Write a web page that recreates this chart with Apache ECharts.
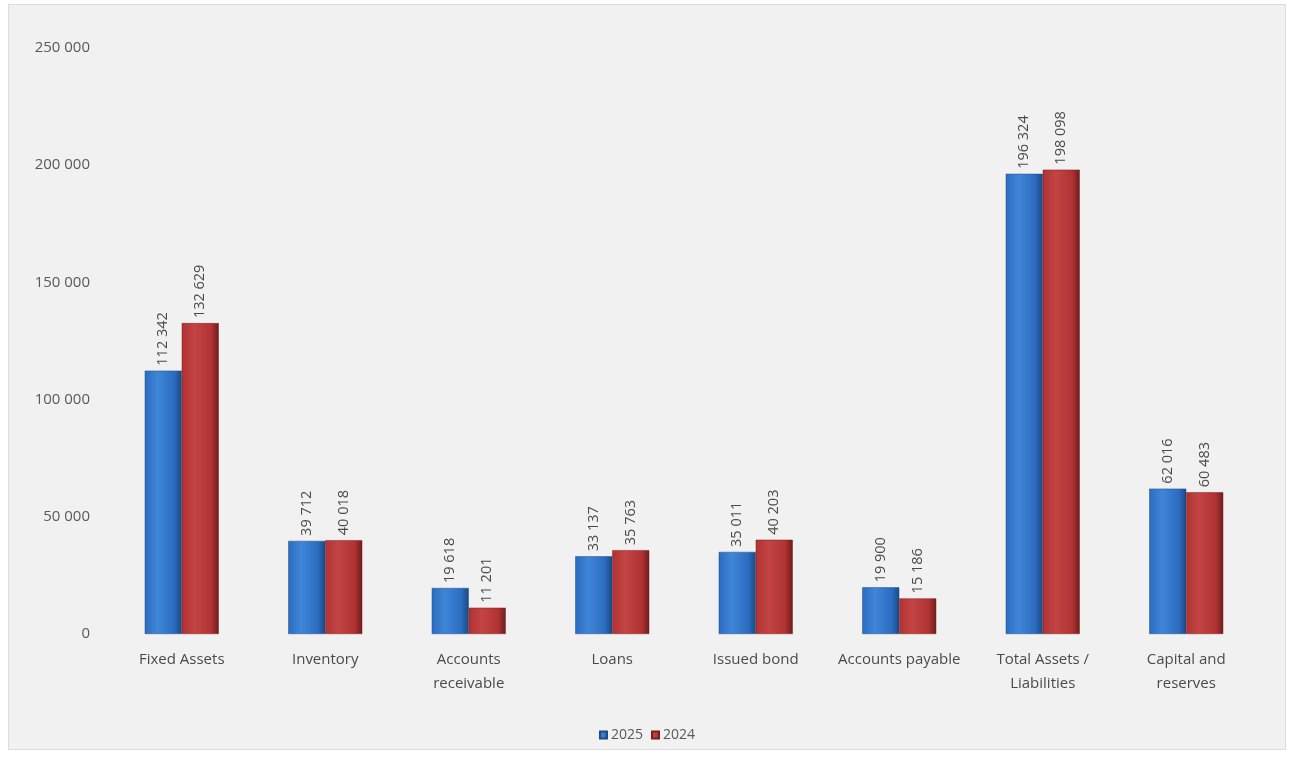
<!DOCTYPE html>
<html><head><meta charset="utf-8">
<script src="https://cdn.jsdelivr.net/npm/echarts@6/dist/echarts.min.js"></script>
<style>
html,body{margin:0;padding:0;background:#fff;}
#wrap{position:absolute;left:8px;top:4px;width:1278px;height:746px;background:#f1f1f1;border:1px solid #dcdcdc;box-sizing:border-box;}
#c{width:100%;height:100%;}
</style></head><body>
<div id="wrap"><div id="c"></div></div>
<script>
const categories = ['Fixed Assets','Inventory','Accounts\nreceivable','Loans','Issued bond','Accounts payable','Total Assets /\nLiabilities','Capital and\nreserves'];
const values2025 = [112342,39712,19618,33137,35011,19900,196324,62016];
const values2024 = [132629,40018,11201,35763,40203,15186,198098,60483];
const seriesNames = ['2025','2024'];

const fmt = v => String(v).replace(/\B(?=(\d{3})+(?!\d))/g,' ');
const font = '"Open Sans", "Noto Sans", sans-serif';
function grad(light, mid, dark){
  return new echarts.graphic.LinearGradient(0,0,1,0,[
    {offset:0,color:mid},{offset:0.35,color:light},{offset:0.8,color:mid},{offset:1,color:dark}]);
}
const chart = echarts.init(document.getElementById('c'), null, {renderer:'canvas'});
const lbl = {show:true, position:'top', rotate:90, align:'left', verticalAlign:'middle', distance:5,
  formatter:p=>fmt(p.value), color:'#4a4a4a', fontSize:14.5, fontFamily:font};
chart.setOption({
  animation:false,
  backgroundColor:'transparent',
  grid:{left:101, right:27, top:43, bottom:115, containLabel:false},
  legend:{bottom:2, left:'center', itemWidth:7, itemHeight:7, itemGap:8, icon:'rect',
    textStyle:{color:'#595959', fontSize:14, fontFamily:font, padding:[0,0,0,-1]},
    data:seriesNames},
  xAxis:{type:'category', data:categories,
    axisLine:{show:false}, axisTick:{show:false},
    axisLabel:{color:'#4a4a4a', fontSize:15, fontFamily:font, margin:14, lineHeight:24, interval:0}},
  yAxis:{type:'value', min:0, max:250000, interval:50000,
    splitLine:{show:false}, axisLine:{show:false}, axisTick:{show:false},
    axisLabel:{color:'#595959', fontSize:15, fontFamily:font, margin:20, formatter:v=>fmt(v)}},
  series:[
    {name:seriesNames[0], type:'bar', data:values2025, barWidth:37, barGap:'0%',
      itemStyle:{color:grad('#3f86d8','#2b6cc0','#1d477f'), borderColor:'#1f4a85', borderWidth:0.5},
      label:lbl},
    {name:seriesNames[1], type:'bar', data:values2024, barWidth:37, barGap:'0%',
      itemStyle:{color:grad('#c44444','#b03232','#6e1c1c'), borderColor:'#7a1f1f', borderWidth:0.5},
      label:lbl}
  ]
});
</script></body></html>
